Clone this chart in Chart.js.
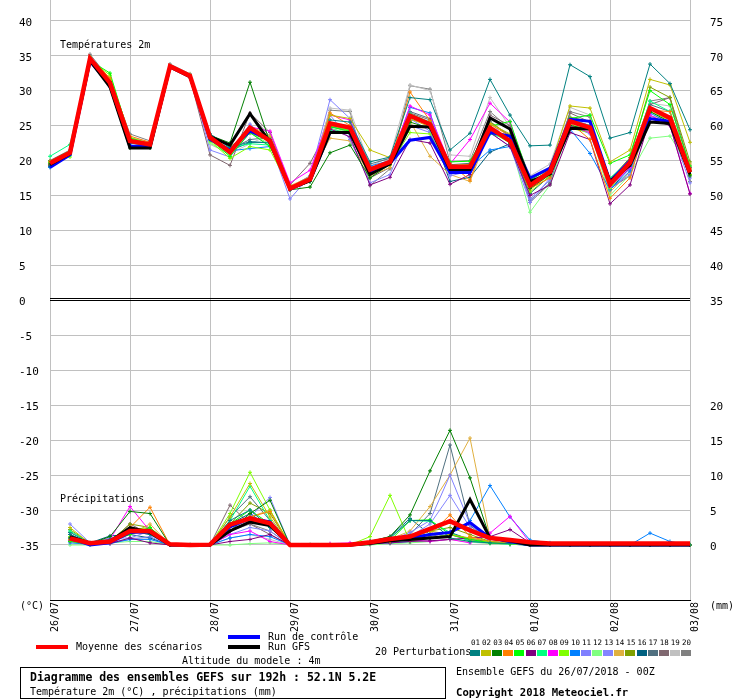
<!DOCTYPE html>
<html>
<head>
<meta charset="utf-8">
<script src="https://cdn.jsdelivr.net/npm/chart.js@4.4.1/dist/chart.umd.min.js"></script>
<style>
body { margin: 0; background: #fff; }
#wrap { position: relative; width: 740px; height: 700px; font-family: "DejaVu Sans Mono", monospace; font-size: 10px; color: #000; overflow: hidden; }
#wrap canvas { position: absolute; left: 0; top: 0; }
.t { position: absolute; white-space: nowrap; line-height: 12px; }
.sw { position: absolute; top: 650px; width: 10px; height: 6px; }
.num { position: absolute; top: 638px; width: 11px; text-align: center; font-size: 7.5px; line-height: 10px; }
.leg { position: absolute; width: 32px; height: 4px; }
#box { position: absolute; left: 20px; top: 667px; width: 424px; height: 30px; border: 1px solid #000; }
</style>
</head>
<body>
<div id="wrap">
  <canvas id="ens" width="740" height="700"></canvas>
  <div class="t" style="left:60px;top:39px;">Températures 2m</div>
  <div class="t" style="left:60px;top:493px;">Précipitations</div>
  <div class="t" style="left:20px;top:600px;">(°C)</div>
  <div class="t" style="left:710px;top:600px;">(mm)</div>

  <div class="leg" style="left:36px;top:645px;background:#ff0000;"></div>
  <div class="t" style="left:76px;top:641px;">Moyenne des scénarios</div>
  <div class="leg" style="left:228px;top:635px;background:#0000ff;"></div>
  <div class="t" style="left:268px;top:631px;">Run de contrôle</div>
  <div class="leg" style="left:228px;top:645px;background:#000000;"></div>
  <div class="t" style="left:268px;top:641px;">Run GFS</div>
  <div class="t" style="left:182px;top:655px;">Altitude du modele : 4m</div>
  <div class="t" style="left:375px;top:646px;">20 Perturbations</div>
  <div id="pertLegend"></div>

  <div id="box"></div>
  <div class="t" style="left:30px;top:671px;font-weight:bold;font-size:11.5px;">Diagramme des ensembles GEFS sur 192h : 52.1N 5.2E</div>
  <div class="t" style="left:30px;top:686px;">Température 2m (°C) , précipitations (mm)</div>
  <div class="t" style="left:456px;top:666px;">Ensemble GEFS du 26/07/2018 - 00Z</div>
  <div class="t" style="left:456px;top:686px;font-weight:bold;font-size:10.6px;">Copyright 2018 Meteociel.fr</div>
</div>
<script>
// tick labels
const dateLabels = ['26/07', '27/07', '28/07', '29/07', '30/07', '31/07', '01/08', '02/08', '03/08'];
const leftTicks = [-35, -30, -25, -20, -15, -10, -5, 0, 5, 10, 15, 20, 25, 30, 35, 40];
const rightTicks = [0, 5, 10, 15, 20, 35, 40, 45, 50, 55, 60, 65, 70, 75];
const pertNames = ['01', '02', '03', '04', '05', '06', '07', '08', '09', '10', '11', '12', '13', '14', '15', '16', '17', '18', '19', '20'];

// 2m temperature (°C), every 6h from 26/07 00Z to 03/08 00Z
const tMean = [19.6, 21.1, 34.6, 31.1, 22.8, 22.3, 33.5, 32.1, 23.3, 21.2, 24.7, 22.8, 16.0, 17.3, 25.3, 24.7, 18.7, 19.8, 26.4, 25.2, 19.1, 19.1, 24.7, 22.8, 16.4, 18.4, 25.6, 24.7, 16.6, 19.7, 27.5, 26.1, 18.3];
const tCtl = [19.0, 20.8, 34.2, 30.8, 22.0, 22.0, 33.4, 32.0, 23.0, 21.5, 24.2, 23.0, 15.9, 17.2, 24.0, 24.0, 18.3, 19.6, 22.9, 23.3, 18.3, 18.3, 24.0, 23.5, 17.5, 18.9, 25.9, 25.6, 17.0, 20.0, 26.0, 25.6, 18.4];
const tGfs = [19.4, 21.0, 34.3, 30.5, 21.8, 21.8, 33.4, 32.0, 23.4, 22.2, 26.7, 22.6, 16.0, 17.1, 24.0, 24.0, 18.0, 19.5, 24.9, 24.8, 18.7, 18.7, 26.1, 24.5, 17.0, 18.1, 24.6, 24.5, 17.0, 19.3, 25.5, 25.3, 18.0];
const t01 = [19.2, 21.0, 34.4, 30.8, 22.5, 22.1, 33.4, 32.0, 23.8, 21.8, 22.7, 22.5, 15.8, 17.0, 25.8, 25.5, 19.8, 20.5, 29.0, 28.7, 21.5, 23.9, 31.6, 26.5, 22.1, 22.2, 33.7, 32.0, 23.2, 24.0, 33.8, 31.0, 24.4];
const t02 = [19.8, 21.3, 34.8, 31.5, 23.0, 22.5, 33.6, 32.3, 23.5, 21.5, 24.3, 23.2, 16.2, 17.6, 26.5, 26.0, 21.5, 20.4, 26.0, 24.8, 19.3, 19.4, 25.3, 23.8, 17.5, 19.0, 27.8, 27.5, 19.8, 21.5, 31.6, 30.8, 22.6];
const t03 = [19.5, 21.0, 34.5, 31.3, 21.8, 21.8, 33.3, 32.0, 23.6, 22.5, 31.2, 22.5, 15.8, 16.2, 21.1, 22.2, 17.5, 19.5, 25.5, 24.6, 18.8, 19.0, 24.5, 22.5, 16.0, 18.0, 25.0, 24.5, 16.5, 19.5, 27.0, 25.5, 17.8];
const t04 = [19.4, 21.2, 34.7, 31.8, 23.5, 22.6, 33.4, 32.0, 23.2, 21.0, 24.5, 22.9, 16.0, 17.2, 26.8, 25.0, 19.0, 19.4, 29.8, 25.7, 19.5, 17.2, 25.2, 23.5, 16.0, 17.5, 25.4, 23.0, 14.6, 17.5, 27.2, 27.0, 18.8];
const t05 = [19.7, 20.8, 34.3, 32.5, 23.2, 22.4, 33.5, 32.1, 23.0, 20.6, 24.0, 22.0, 16.3, 17.0, 24.8, 24.2, 18.5, 19.6, 25.0, 24.8, 19.8, 19.9, 24.9, 25.6, 17.2, 18.8, 26.0, 26.5, 19.6, 20.8, 30.0, 28.0, 19.2];
const t06 = [19.3, 21.0, 34.6, 31.0, 22.6, 22.2, 33.4, 32.0, 23.1, 21.5, 24.5, 23.0, 16.2, 17.5, 24.5, 23.4, 16.5, 17.6, 23.0, 22.5, 16.6, 18.0, 24.0, 22.0, 15.0, 16.5, 24.0, 23.0, 13.8, 16.5, 26.0, 25.0, 15.2];
const t07 = [20.6, 22.3, 34.8, 31.2, 22.9, 22.0, 33.4, 32.0, 23.0, 21.8, 22.4, 22.2, 16.1, 17.6, 24.3, 24.0, 18.8, 19.9, 26.7, 25.5, 19.0, 19.2, 23.8, 23.0, 16.2, 18.2, 25.8, 25.0, 17.5, 20.0, 28.5, 27.0, 18.5];
const t08 = [19.5, 21.0, 34.5, 31.0, 22.7, 22.1, 33.3, 32.0, 23.4, 21.6, 24.8, 24.2, 16.8, 18.6, 26.5, 25.8, 18.4, 19.7, 27.8, 26.5, 19.5, 23.0, 28.2, 25.5, 16.8, 18.5, 25.0, 24.0, 16.3, 19.0, 26.5, 25.0, 15.3];
const t09 = [19.8, 20.5, 34.4, 32.2, 23.3, 22.4, 33.4, 32.0, 22.8, 20.3, 22.0, 21.5, 16.0, 17.2, 25.0, 24.3, 18.0, 19.4, 24.0, 23.8, 18.5, 18.8, 24.2, 22.5, 15.5, 17.8, 24.6, 24.0, 16.0, 19.4, 27.0, 25.8, 18.0];
const t10 = [19.0, 20.8, 34.3, 30.5, 22.2, 22.0, 33.5, 32.1, 23.0, 21.4, 21.7, 22.0, 16.2, 17.4, 24.8, 24.4, 19.2, 20.0, 27.6, 26.8, 18.5, 19.0, 21.5, 22.0, 16.6, 18.3, 24.5, 21.0, 15.8, 18.5, 26.8, 25.3, 18.0];
const t11 = [19.4, 21.0, 34.5, 30.7, 22.4, 22.2, 33.5, 32.0, 23.0, 21.3, 25.2, 22.5, 14.5, 17.8, 28.7, 26.0, 19.0, 19.5, 26.0, 24.2, 18.0, 18.7, 24.0, 22.0, 14.0, 17.5, 25.0, 23.8, 16.0, 18.0, 26.0, 25.5, 17.5];
const t12 = [19.6, 21.2, 34.6, 31.0, 22.6, 22.3, 33.5, 32.1, 22.5, 20.8, 24.0, 22.3, 15.9, 17.0, 24.5, 24.1, 18.7, 19.6, 26.2, 25.0, 19.0, 18.9, 24.4, 22.6, 12.6, 16.5, 25.2, 24.2, 15.0, 18.0, 23.2, 23.5, 18.8];
const t13 = [19.5, 20.9, 34.7, 31.4, 22.7, 22.4, 33.6, 32.2, 21.5, 20.5, 24.0, 22.0, 16.0, 17.0, 26.5, 23.0, 16.8, 18.0, 25.0, 24.0, 17.8, 18.5, 25.5, 22.5, 14.5, 17.2, 26.0, 25.0, 16.2, 18.8, 26.5, 25.0, 16.8];
const t14 = [19.7, 21.3, 34.8, 31.6, 23.0, 22.5, 33.5, 32.1, 23.2, 21.0, 25.0, 23.5, 16.4, 17.6, 23.2, 22.8, 17.8, 19.0, 25.6, 20.6, 18.0, 17.0, 24.4, 23.5, 15.8, 18.0, 25.5, 24.5, 15.5, 18.4, 26.3, 26.0, 19.5];
const t15 = [19.9, 21.4, 34.6, 31.2, 22.9, 22.4, 33.4, 32.0, 23.6, 22.0, 23.9, 22.8, 16.2, 17.5, 25.0, 24.6, 18.6, 19.6, 25.8, 25.4, 19.2, 19.4, 25.6, 23.4, 16.8, 18.7, 26.2, 25.6, 17.3, 20.4, 30.5, 29.0, 19.8];
const t16 = [19.1, 20.9, 34.5, 31.0, 22.5, 22.2, 33.4, 32.0, 23.5, 21.4, 22.6, 22.6, 16.1, 17.2, 24.6, 23.8, 18.3, 20.0, 26.4, 25.0, 17.0, 17.6, 21.2, 22.4, 15.3, 17.8, 24.8, 24.5, 15.8, 19.0, 27.5, 26.2, 18.0];
const t17 = [19.7, 21.2, 34.9, 31.4, 23.0, 22.4, 33.6, 32.2, 23.3, 21.6, 23.0, 23.3, 16.0, 17.0, 25.2, 25.0, 19.5, 20.3, 27.0, 26.0, 19.4, 19.6, 25.5, 23.6, 14.3, 16.8, 25.8, 25.0, 16.8, 20.0, 28.0, 27.0, 18.5];
const t18 = [20.0, 21.5, 34.5, 31.0, 22.0, 22.0, 33.3, 31.8, 20.8, 19.3, 26.8, 24.0, 16.5, 19.6, 25.0, 24.0, 17.5, 19.0, 26.8, 25.8, 19.5, 19.0, 26.5, 25.0, 17.5, 18.8, 26.8, 25.5, 16.0, 17.8, 28.0, 29.0, 19.0];
const t19 = [19.8, 21.2, 34.8, 31.3, 23.3, 22.6, 33.6, 32.2, 22.3, 21.0, 22.4, 23.7, 16.0, 17.3, 27.5, 27.2, 19.2, 20.5, 30.8, 30.0, 20.8, 20.6, 29.0, 24.8, 17.8, 19.5, 27.6, 26.5, 16.8, 20.2, 28.2, 27.8, 19.3];
const t20 = [19.9, 21.3, 35.2, 31.6, 23.8, 22.8, 33.8, 32.4, 23.8, 22.0, 26.7, 23.4, 16.2, 17.8, 27.2, 27.0, 16.4, 18.8, 30.7, 30.2, 19.8, 20.0, 27.0, 24.5, 14.0, 16.7, 27.0, 26.2, 16.4, 19.3, 28.5, 29.0, 17.0];

// 6h precipitation (mm), from 26/07 06Z to 03/08 00Z
const pMean = [0.95, 0.25, 0.5, 2.0, 2.0, 0.1, 0, 0.05, 2.9, 3.8, 3.1, 0, 0, 0, 0.05, 0.4, 0.85, 1.2, 2.3, 3.4, 2.1, 1.0, 0.7, 0.4, 0.2, 0.2, 0.2, 0.2, 0.2, 0.2, 0.2, 0.2];
const pCtl = [1.0, 0.0, 0.3, 1.8, 1.9, 0, 0, 0, 2.6, 3.8, 3.3, 0, 0, 0, 0, 0.3, 0.8, 1.0, 1.5, 1.8, 3.2, 1.0, 0.5, 0, 0, 0, 0, 0, 0, 0, 0, 0];
const pGfs = [1.2, 0.3, 0.5, 2.5, 1.8, 0, 0, 0, 2.0, 3.3, 2.8, 0, 0, 0, 0, 0.2, 0.6, 0.8, 1.0, 1.2, 6.5, 1.0, 0.6, 0, 0, 0, 0, 0, 0, 0, 0, 0];
const p01 = [1.5, 0.3, 0.8, 2.0, 1.5, 0, 0, 0, 3.5, 5.0, 2.5, 0, 0, 0, 0, 0.5, 1.0, 3.5, 3.5, 1.0, 0.5, 0.3, 0.2, 0.2, 0, 0, 0, 0, 0, 0, 0, 0];
const p02 = [2.5, 0.2, 0.5, 2.5, 2.0, 0, 0, 0, 4.0, 8.8, 4.0, 0, 0, 0, 0, 0.3, 0.5, 1.0, 2.0, 1.5, 1.0, 0.5, 0.2, 0, 0, 0, 0, 0, 0, 0, 0, 0];
const p03 = [1.0, 0.2, 1.2, 4.8, 4.5, 0, 0, 0, 2.0, 4.5, 6.4, 0, 0, 0, 0, 0.5, 1.2, 4.3, 10.6, 16.4, 9.6, 1.0, 0.3, 0, 0, 0, 0, 0, 0, 0, 0, 0];
const p04 = [0.8, 0.2, 0.3, 2.5, 5.4, 0, 0, 0, 2.5, 4.0, 4.8, 0, 0, 0, 0, 0.3, 0.5, 0.8, 1.5, 4.3, 1.2, 0.5, 0.3, 0.2, 0, 0, 0, 0, 0, 0, 0, 0];
const p05 = [0.5, 0.1, 0.5, 1.5, 2.5, 0, 0, 0, 3.0, 5.0, 3.0, 0, 0, 0, 0, 0.2, 0.6, 3.5, 3.6, 1.5, 0.8, 0.3, 0.2, 0, 0, 0, 0, 0, 0, 0, 0, 0];
const p06 = [0.6, 0.2, 0.2, 1.0, 0.3, 0, 0, 0, 0.5, 0.8, 1.5, 0, 0, 0, 0, 0.2, 0.3, 0.5, 0.6, 0.8, 1.0, 1.2, 2.2, 0.3, 0, 0, 0, 0, 0, 0, 0, 0];
const p07 = [2.0, 0.3, 0.5, 1.8, 2.3, 0, 0, 0, 3.5, 8.4, 3.5, 0, 0, 0, 0, 0.4, 1.0, 3.5, 3.4, 1.8, 0.5, 0.3, 0.1, 0, 0, 0, 0, 0, 0, 0, 0, 0];
const p08 = [0.5, 0.2, 0.8, 5.5, 2.0, 0, 0, 0, 1.5, 2.0, 0.5, 0, 0, 0.2, 0.3, 0.1, 0.5, 0.8, 0.5, 0.8, 0.3, 1.7, 4.1, 0.3, 0, 0, 0, 0, 0, 0, 0, 0];
const p09 = [1.2, 0.2, 0.5, 2.2, 2.5, 0, 0, 0, 4.5, 10.4, 5.0, 0, 0, 0, 0, 1.2, 7.1, 0.5, 1.0, 1.5, 0.8, 0.3, 0.2, 0, 0, 0, 0, 0, 0, 0, 0, 0];
const p10 = [0.3, 0.1, 0.2, 0.8, 0.8, 0, 0, 0, 1.0, 1.5, 1.2, 0, 0, 0, 0, 0.2, 0.3, 0.5, 1.0, 1.5, 3.5, 8.5, 4.0, 0.7, 0.3, 0, 0, 0, 0, 1.7, 0.5, 0];
const p11 = [3.0, 0.3, 1.0, 1.0, 2.0, 0, 0, 0, 2.0, 4.0, 6.8, 0, 0, 0, 0, 0.3, 0.6, 1.8, 3.5, 10.0, 3.0, 0.5, 0.2, 0, 0, 0, 0, 0, 0, 0, 0, 0];
const p12 = [0, 0, 0.3, 0.5, 0.5, 0, 0, 0, 0, 0.2, 0.3, 0, 0, 0, 0, 0, 0.2, 0.3, 0.5, 0.8, 0.5, 0.2, 0.1, 0, 0, 0, 0, 0, 0, 0, 0, 0];
const p13 = [1.0, 0.2, 0.3, 0.8, 1.2, 0, 0, 0, 1.5, 2.5, 2.0, 0, 0, 0, 0, 0.2, 0.5, 1.2, 3.0, 7.1, 2.5, 0.5, 0.2, 0, 0, 0, 0, 0, 0, 0, 0, 0];
const p14 = [0.8, 0.2, 0.5, 1.5, 3.0, 0, 0, 0, 2.8, 4.0, 5.0, 0, 0, 0, 0, 0.3, 0.8, 2.0, 5.5, 10.0, 15.3, 1.0, 0.3, 0, 0, 0, 0, 0, 0, 0, 0, 0];
const p15 = [2.2, 0.3, 0.5, 3.0, 2.5, 0, 0, 0, 3.0, 6.0, 4.5, 0, 0, 0, 0, 0.3, 0.5, 1.0, 2.0, 2.5, 1.5, 0.5, 0.2, 0, 0, 0, 0, 0, 0, 0, 0, 0];
const p16 = [1.8, 0.3, 1.3, 1.5, 1.0, 0, 0, 0, 3.0, 4.5, 2.5, 0, 0, 0, 0, 0.5, 1.2, 3.8, 1.5, 1.8, 0.8, 0.5, 0.2, 0, 0, 0, 0, 0, 0, 0, 0, 0];
const p17 = [1.5, 0.2, 0.8, 2.5, 2.0, 0, 0, 0, 4.0, 6.9, 3.5, 0, 0, 0, 0, 0.3, 0.8, 1.5, 4.5, 14.3, 2.8, 0.5, 0.2, 0, 0, 0, 0, 0, 0, 0, 0, 0];
const p18 = [0.8, 0.2, 0.5, 3.0, 1.5, 0, 0, 0, 5.7, 3.0, 1.5, 0, 0, 0, 0, 0.2, 0.4, 0.8, 1.0, 1.5, 0.6, 0.3, 0.1, 0, 0, 0, 0, 0, 0, 0, 0, 0];
const p19 = [0.5, 0.1, 0.3, 1.0, 1.0, 0, 0, 0, 1.0, 1.5, 0.8, 0, 0, 0, 0, 0.1, 0.2, 0.4, 0.5, 0.8, 0.4, 0.2, 0.1, 0, 0, 0, 0, 0, 0, 0, 0, 0];
const p20 = [1.0, 0.2, 0.5, 2.0, 1.5, 0, 0, 0, 2.0, 3.0, 2.0, 0, 0, 0, 0, 0.2, 0.5, 0.8, 1.2, 1.8, 0.6, 0.3, 0.1, 0, 0, 0, 0, 0, 0, 0, 0, 0];

const pertColors = ['#008080', '#c0c000', '#008000', '#ff8000', '#00ff00', '#800080', '#00ff80', '#ff00ff', '#80ff00', '#0080ff',
                    '#8080ff', '#80ff80', '#8484ff', '#e0b040', '#80a000', '#006080', '#507080', '#806870', '#c0c0c0', '#808080'];

const tPert = [t01, t02, t03, t04, t05, t06, t07, t08, t09, t10, t11, t12, t13, t14, t15, t16, t17, t18, t19, t20];
const pPert = [p01, p02, p03, p04, p05, p06, p07, p08, p09, p10, p11, p12, p13, p14, p15, p16, p17, p18, p19, p20];

const FONT = '"DejaVu Sans Mono", monospace';

// one label per 6h step, dates every 24h
const labels = [];
for (let i = 0; i < tMean.length; i++) {
    labels.push(i % 4 === 0 ? dateLabels[i / 4] : '');
}
// precipitation starts at the first 6h step
const precip = arr => [null].concat(arr);

// perturbation legend swatches
const pertLegend = document.getElementById('pertLegend');
pertNames.forEach((name, k) => {
    const left = 470 + k * 11.1;
    const num = document.createElement('div');
    num.className = 'num';
    num.style.left = left + 'px';
    num.textContent = name;
    pertLegend.appendChild(num);
    const sw = document.createElement('div');
    sw.className = 'sw';
    sw.style.left = left + 'px';
    sw.style.background = pertColors[k];
    pertLegend.appendChild(sw);
});

const datasets = [];
tPert.forEach((arr, k) => {
    datasets.push({
        label: 'T ' + pertNames[k], data: arr, yAxisID: 'y',
        borderColor: pertColors[k], borderWidth: 1,
        pointStyle: 'cross', pointRadius: 2, pointBorderWidth: 1, pointBorderColor: pertColors[k],
        order: 10 + k
    });
});
pPert.forEach((arr, k) => {
    datasets.push({
        label: 'P ' + pertNames[k], data: precip(arr), yAxisID: 'y2',
        borderColor: pertColors[k], borderWidth: 1,
        pointStyle: 'cross', pointRadius: 2, pointBorderWidth: 1, pointBorderColor: pertColors[k],
        order: 10 + k
    });
});
const thick = (label, data, axis, color, width, order) => ({
    label: label, data: data, yAxisID: axis, borderColor: color, borderWidth: width,
    pointRadius: 0, order: order
});
datasets.push(thick('T controle', tCtl, 'y', '#0000ff', 3, 2));
datasets.push(thick('P controle', precip(pCtl), 'y2', '#0000ff', 3, 2));
datasets.push(thick('T GFS', tGfs, 'y', '#000000', 3, 1));
datasets.push(thick('P GFS', precip(pGfs), 'y2', '#000000', 3, 1));
datasets.push(thick('T moyenne', tMean, 'y', '#ff0000', 4.5, 0));
datasets.push(thick('P moyenne', precip(pMean), 'y2', '#ff0000', 4.5, 0));

// double black line at 0 °C
const zeroLine = {
    id: 'zeroLine',
    beforeDatasetsDraw(chart) {
        const {ctx, chartArea, scales} = chart;
        const y = Math.round(scales.y.getPixelForValue(0));
        ctx.save();
        ctx.strokeStyle = '#000';
        ctx.lineWidth = 1;
        ctx.beginPath();
        ctx.moveTo(chartArea.left, y - 1.5);
        ctx.lineTo(chartArea.right, y - 1.5);
        ctx.moveTo(chartArea.left, y + 0.5);
        ctx.lineTo(chartArea.right, y + 0.5);
        ctx.stroke();
        ctx.restore();
    }
};

// fixed plot frame: no extra padding from tick labels
const noPad = s => { s.paddingTop = 0; s.paddingBottom = 0; s.paddingLeft = 0; s.paddingRight = 0; };

new Chart(document.getElementById('ens'), {
    type: 'line',
    data: { labels: labels, datasets: datasets },
    plugins: [zeroLine],
    options: {
        responsive: false,
        animation: false,
        devicePixelRatio: 1,
        layout: { padding: { left: 19, right: 0, top: 0, bottom: 0 }, autoPadding: false },
        plugins: { legend: { display: false }, tooltip: { enabled: false } },
        elements: { line: { tension: 0, fill: false } },
        scales: {
            x: {
                grid: {
                    color: ctx => ctx.index % 4 === 0 ? '#c0c0c0' : 'rgba(0,0,0,0)',
                    drawTicks: false
                },
                border: { display: true, color: '#000', width: 1 },
                ticks: {
                    autoSkip: false, minRotation: 90, maxRotation: 90,
                    padding: 2, labelOffset: 5,
                    color: '#000', font: { family: FONT, size: 10 },
                    callback: (v, i) => i % 4 === 0 ? dateLabels[i / 4] : ''
                },
                afterFit: s => { s.height = 100; noPad(s); }
            },
            y: {
                position: 'left',
                min: -42.87, max: 42.96,
                afterBuildTicks: s => { s.ticks = leftTicks.map(v => ({ value: v })); },
                grid: {
                    color: ctx => ctx.tick && ctx.tick.value === 0 ? 'rgba(0,0,0,0)' : '#c0c0c0',
                    drawTicks: false
                },
                border: { display: false },
                ticks: { crossAlign: 'far', labelOffset: 2, color: '#000', font: { family: FONT, size: 11 } },
                afterFit: s => { s.width = 31; noPad(s); }
            },
            y2: {
                position: 'right',
                min: -7.87, max: 77.96,
                afterBuildTicks: s => { s.ticks = rightTicks.map(v => ({ value: v })); },
                grid: { display: false, drawTicks: false },
                border: { display: false },
                ticks: { padding: 20, labelOffset: 2, color: '#000', font: { family: FONT, size: 11 } },
                afterFit: s => { s.width = 50; noPad(s); }
            }
        }
    }
});
</script>
</body>
</html>
